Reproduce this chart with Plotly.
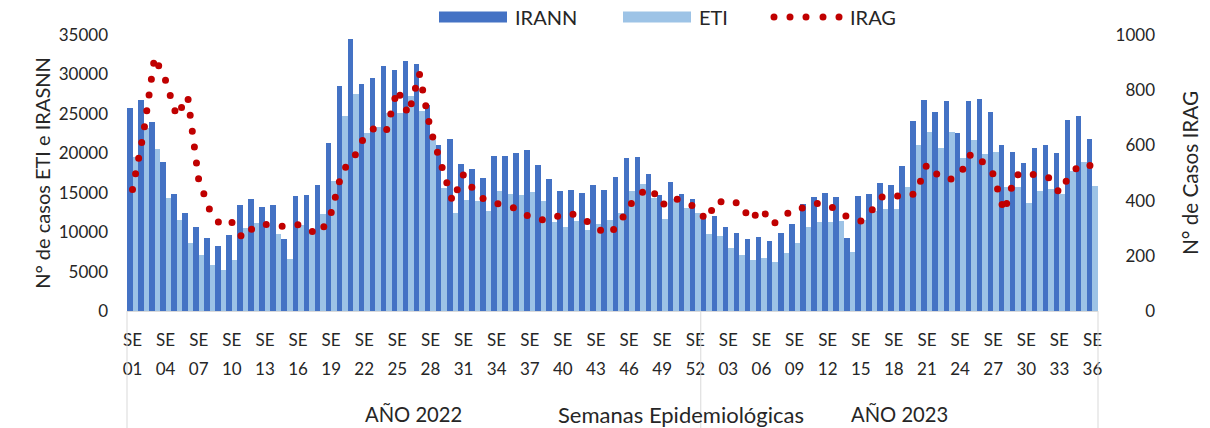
import plotly.graph_objects as go

# ---------------- data ----------------
years = ["2022", "2023"]
weeks_2022 = [f"{w:02d}" for w in range(1, 53)]
weeks_2023 = [f"{w:02d}" for w in range(1, 37)]

irann = [25680, 26740, 23990, 18860, 14840, 12470, 10600, 9250, 8190, 9680,
         13400, 14250, 13140, 13440, 9170, 14540, 14760, 15940, 21320, 28550,
         34490, 28730, 29580, 31010, 30550, 31650, 31270, 26100, 21100, 21790,
         18650, 18060, 16920, 19710, 19710, 20090, 20390, 18570, 16700, 15180,
         15390, 15010, 15980, 15300, 17000, 19370, 19540, 17340, 14670, 16320,
         14880, 14250,
         12050, 12090, 10670, 9850, 9080, 9440, 8910, 9850, 11070, 13530,
         14500, 14960, 14400, 9210, 14540, 14860, 16240, 16030, 18350, 24050,
         26700, 25180, 26610, 22570, 26610, 26850, 25280, 21020, 20170, 18720,
         20730, 21040, 19990, 24160, 24730, 21790]

eti = [19540, 23200, 20520, 14330, 11500, 8570, 7050, 5780, 5230, 6500,
       10520, 11150, 10860, 9800, 6630, 10860, 10100, 12340, 16490, 24740,
       27500, 22630, 23350, 25170, 25170, 27290, 25340, 21660, 15600, 12420,
       14080, 13910, 12640, 15180, 14800, 14760, 15050, 13950, 11280, 10600,
       11410, 10310, 11070, 11500, 12420, 15220, 16070, 14380, 11620, 14250,
       13060, 12420,
       9720, 9480, 7960, 7140, 6480, 6710, 6230, 7410, 8570, 10600,
       11300, 11240, 11390, 7450, 11580, 12700, 12930, 12920, 15730, 21020,
       22680, 20700, 22760, 19440, 21740, 19880, 20170, 15730, 15730, 13700,
       15200, 15440, 14880, 17740, 18900, 15830]

irag = [440, 645, 920, 835, 705, 778, 475, 366, 310, 322,
        263, 305, 314, 312, 305, 313, 292, 280, 355, 507,
        550, 630, 666, 652, 803, 712, 860, 658, 535, 397,
        495, 433, 400, 392, 380, 368, 340, 330, 333, 353,
        350, 330, 305, 277, 307, 380, 426, 445, 383, 412,
        392, 378,
        329, 402, 385, 395, 328, 372, 313, 340, 372, 374,
        390, 386, 362, 335, 326, 365, 416, 419, 412, 427,
        532, 492, 475, 494, 571, 542, 496, 360, 490, 503,
        490, 484, 428, 497, 533, 525]

week_labels = weeks_2022 + weeks_2023
cats = [f"{years[0]}-{w}" for w in weeks_2022] + [f"{years[1]}-{w}" for w in weeks_2023]
tick_step = 3

# ---------------- styling / geometry ----------------
W, H = 1210, 428
ML, MR, MT, MB = 127, 50, 35, 117
PLOT_RIGHT = 1098
PW, PH = W - ML - MR, H - MT - MB
FONT = "Lato"
TXT = "#262626"
C_IRANN = "#4472C4"
C_ETI = "#9DC3E6"
C_IRAG = "#C00000"


def px_x(px):
    return (px - ML) / PW


def px_y(py):
    return (H - MB - py) / PH


fig = go.Figure()
fig.add_trace(go.Bar(name="IRANN", x=cats, y=irann, marker=dict(color=C_IRANN, line=dict(width=0)),
                     showlegend=False))
fig.add_trace(go.Bar(name="ETI", x=cats, y=eti, marker=dict(color=C_ETI, line=dict(width=0)),
                     showlegend=False))
fig.add_trace(go.Scatter(name="IRAG", x=cats, y=irag, xaxis="x2", yaxis="y2", mode="lines",
                         line=dict(color=C_IRAG, width=7, dash="0px,16px"), showlegend=False))

tickvals = cats[::tick_step]
x_dom = [0, (PLOT_RIGHT - ML) / PW]
xrange = [-0.5, len(cats) - 0.5]

fig.update_layout(
    width=W, height=H,
    margin=dict(l=ML, r=MR, t=MT, b=MB, autoexpand=False),
    paper_bgcolor="white", plot_bgcolor="white",
    font=dict(family=FONT, size=17, color=TXT),
    barmode="group", bargap=0, bargroupgap=0,
    xaxis=dict(type="category", categoryarray=cats, range=xrange, domain=x_dom,
               tickmode="array", tickvals=tickvals, ticktext=["SE"] * len(tickvals),
               ticks="", showgrid=False, zeroline=False, showline=True,
               linecolor="#D9D9D9", linewidth=1, ticklabelstandoff=14,
               tickfont=dict(size=17, color=TXT)),
    xaxis2=dict(type="category", categoryarray=cats, range=xrange, overlaying="x",
                anchor="y", side="bottom", domain=x_dom,
                tickmode="array", tickvals=tickvals, ticktext=week_labels[::tick_step],
                ticks="", showgrid=False, zeroline=False, showline=False,
                ticklabelstandoff=46, tickfont=dict(size=17, color=TXT)),
    yaxis=dict(range=[0, 35000], tickmode="linear", tick0=0, dtick=5000, tickformat="d",
               ticks="", showgrid=False, zeroline=False, showline=False,
               ticklabelstandoff=18, tickfont=dict(size=17, color=TXT),
               title=dict(text="N° de casos ETI e IRASNN", standoff=2,
                          font=dict(size=20, color=TXT))),
    yaxis2=dict(range=[0, 1000], tickmode="linear", tick0=0, dtick=200, tickformat="d",
                overlaying="y", side="left", anchor="free", position=1,
                ticks="", showgrid=False, zeroline=False, showline=False,
                ticklabelstandoff=5, tickfont=dict(size=17, color=TXT)),
)

# right axis title
fig.add_annotation(text="N° de Casos IRAG", xref="paper", yref="paper",
                   x=px_x(1190), y=0.5, textangle=-90, showarrow=False,
                   xanchor="center", yanchor="middle", font=dict(size=20.7, color=TXT))

# multi-level category dividers (year groups)
n22 = len(weeks_2022)
n_all = len(cats)
for xf in [0, n22 / n_all, 1]:
    fig.add_shape(type="line", xref="x domain", yref="paper", x0=xf, x1=xf,
                  y0=0, y1=-0.45, line=dict(color="#D9D9D9", width=1))

# group labels + axis caption
fig.add_annotation(text="AÑO " + years[0], xref="x domain", yref="paper",
                   x=(n22 / n_all) / 2, y=px_y(414), showarrow=False,
                   xanchor="center", yanchor="middle", font=dict(size=20.2, color=TXT))
fig.add_annotation(text="AÑO " + years[1], xref="x domain", yref="paper",
                   x=(n22 / n_all + 1) / 2, y=px_y(414), showarrow=False,
                   xanchor="center", yanchor="middle", font=dict(size=20.2, color=TXT))
fig.add_annotation(text="Semanas Epidemiológicas", xref="paper", yref="paper",
                   x=px_x(681), y=px_y(414), showarrow=False,
                   xanchor="center", yanchor="middle", font=dict(size=22, color=TXT))

# custom legend
LY = 17
fig.add_shape(type="rect", xref="paper", yref="paper", x0=px_x(439), x1=px_x(507),
              y0=px_y(LY - 5.5), y1=px_y(LY + 5.5), fillcolor=C_IRANN, line=dict(width=0))
fig.add_shape(type="rect", xref="paper", yref="paper", x0=px_x(623), x1=px_x(691),
              y0=px_y(LY - 5.5), y1=px_y(LY + 5.5), fillcolor=C_ETI, line=dict(width=0))
for cx in [774, 790, 806, 823, 839]:
    fig.add_shape(type="circle", xref="paper", yref="paper", x0=px_x(cx - 3.5), x1=px_x(cx + 3.5),
                  y0=px_y(LY - 3.5), y1=px_y(LY + 3.5), fillcolor=C_IRAG, line=dict(width=0))
for label, lx in [("IRANN", 513), ("ETI", 697), ("IRAG", 848)]:
    fig.add_annotation(text=label, xref="paper", yref="paper", x=px_x(lx), y=px_y(LY),
                       xanchor="left", yanchor="middle", showarrow=False,
                       font=dict(size=20, color=TXT))

post = """
document.body.style.margin = '0';
document.body.style.overflow = 'hidden';
var gd = document.getElementById('{plot_id}');
function roundCaps(){
  gd.querySelectorAll('.scatterlayer path.js-line').forEach(function(p){
    p.style.strokeLinecap = 'round';
  });
}
roundCaps();
gd.on('plotly_afterplot', roundCaps);
"""

fig.write_html("out.html", config={"displayModeBar": False}, post_script=post)
